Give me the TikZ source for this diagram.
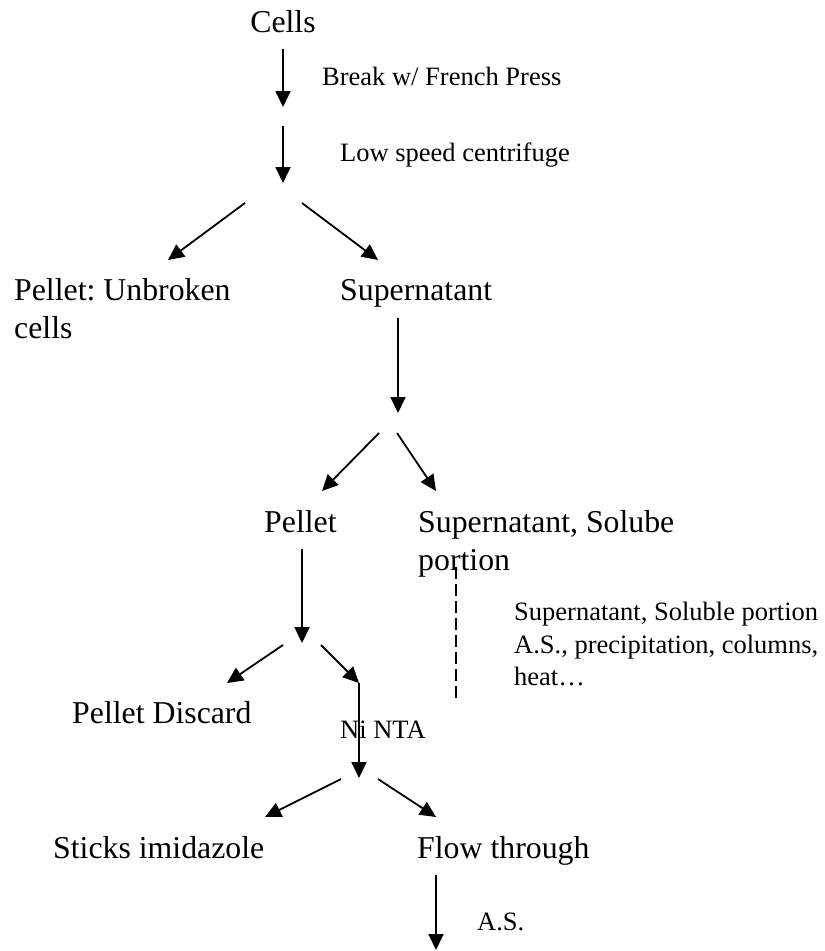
\documentclass[tikz,border=0pt]{standalone}
\usepackage{fontspec}
\setmainfont{Liberation Serif}
\usetikzlibrary{arrows.meta}
\frenchspacing
\begin{document}
\begin{tikzpicture}[x=1pt,y=-1pt,
  big/.style={font=\fontsize{31.8}{38}\selectfont, inner sep=0pt, anchor=base west},
  small/.style={font=\fontsize{26.5}{32.5}\selectfont, inner sep=0pt, anchor=base west},
  flow/.style={line width=1.8pt, -{Triangle[length=16pt,width=15pt]}},
  dashline/.style={line width=1.3pt, dash pattern=on 12pt off 5pt}]
\useasboundingbox (0,0) rectangle (825,951);
% text
\node[big, anchor=base] (cells) at (283,32) {Cells};
\node[small] (break) at (322,85.7) {Break w/ French Press};
\node[small] (lowspeed) at (340,161.7) {Low speed centrifuge};
\node[big] (unbroken) at (14,300.5) {\vtop{\hbox{Pellet: Unbroken}\hbox{cells}}};
\node[big] (super1) at (340,300.5) {Supernatant};
\node[big] (pellet) at (264,532.5) {Pellet};
\node[big] (super2) at (418,532.5) {\vtop{\hbox{Supernatant, Solube}\hbox{portion}}};
\node[small] (soluble) at (514,620.7) {\vtop{\hbox{Supernatant, Soluble portion}\hbox{A.S., precipitation, columns,}\hbox{heat…}}};
\node[big] (discard) at (72,723.5) {Pellet Discard};
\node[small] (ninta) at (340,738.7) {Ni NTA};
\node[big] (sticks) at (53,858.5) {Sticks imidazole};
\node[big] (flowthrough) at (417,858.5) {Flow through};
\node[small] (as) at (477,930.7) {A.S.};
% coordinates
\coordinate (a1s) at (283,49);  \coordinate (a1e) at (283,107);
\coordinate (a2s) at (283,126); \coordinate (a2e) at (283,183);
\coordinate (a3s) at (245,203); \coordinate (a3e) at (168,260);
\coordinate (a4s) at (302,203); \coordinate (a4e) at (378,260);
\coordinate (a5s) at (398,318); \coordinate (a5e) at (398,413);
\coordinate (a6s) at (379,433); \coordinate (a6e) at (322,491);
\coordinate (a7s) at (397,433); \coordinate (a7e) at (436,491);
\coordinate (a8s) at (302,549); \coordinate (a8e) at (302,643);
\coordinate (a9s) at (283,645); \coordinate (a9e) at (227,683);
\coordinate (a10s) at (321,645); \coordinate (a10e) at (359,683);
\coordinate (a11e) at (359,778);
\coordinate (a12s) at (341,779); \coordinate (a12e) at (265,817);
\coordinate (a13s) at (378,779); \coordinate (a13e) at (436,817);
\coordinate (a14s) at (436,875); \coordinate (a14e) at (436,950);
\coordinate (ds) at (456,567); \coordinate (de) at (456,703);
% connectors
\draw[flow] (a1s) -- (a1e);
\draw[flow] (a2s) -- (a2e);
\draw[flow] (a3s) -- (a3e);
\draw[flow] (a4s) -- (a4e);
\draw[flow] (a5s) -- (a5e);
\draw[flow] (a6s) -- (a6e);
\draw[flow] (a7s) -- (a7e);
\draw[flow] (a8s) -- (a8e);
\draw[flow] (a9s) -- (a9e);
\draw[flow] (a10s) -- (a10e);
\draw[flow] (a10e) -- (a11e);
\draw[flow] (a12s) -- (a12e);
\draw[flow] (a13s) -- (a13e);
\draw[flow] (a14s) -- (a14e);
\draw[dashline] (ds) -- (de);
\end{tikzpicture}
\end{document}
